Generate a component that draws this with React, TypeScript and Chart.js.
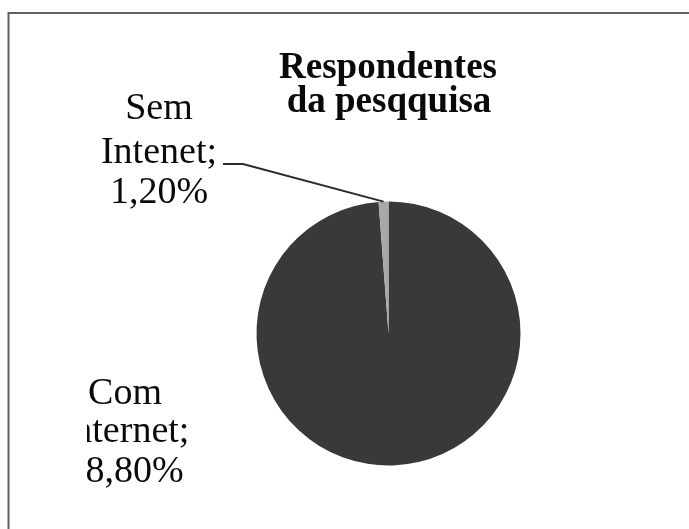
import React, { useEffect, useRef } from "react";
import { Chart, ArcElement, PieController } from "chart.js";

Chart.register(ArcElement, PieController);

const categories = ["Com Internet;", "Sem Intenet;"];
const values = [98.8, 1.2];
const sliceColors = ["#393939", "#a9a9a9"];
const titleLines = ["Respondentes", "da pesqquisa"];

const fmtPct = (v: number) => v.toFixed(2).replace(".", ",") + "%";

const overlay = {
  id: "overlay",
  afterDraw(chart: any) {
    const ctx: CanvasRenderingContext2D = chart.ctx;
    ctx.save();
    // frame
    ctx.strokeStyle = "#606060";
    ctx.lineWidth = 2;
    ctx.beginPath();
    ctx.moveTo(8.5, 529);
    ctx.lineTo(8.5, 13);
    ctx.lineTo(689, 13);
    ctx.stroke();

    // title
    ctx.fillStyle = "#0a0a0a";
    ctx.textAlign = "center";
    ctx.textBaseline = "alphabetic";
    ctx.font = "bold 37px 'Liberation Serif'";
    ctx.fillText(titleLines[0], 388, 78);
    ctx.fillText(titleLines[1], 389, 112);

    // labels
    ctx.font = "38px 'Liberation Serif'";
    const meta = chart.getDatasetMeta(0);
    const lines = categories.map((c, i) => {
      const parts = c.split(" ");
      return [parts[0], parts.slice(1).join(" "), fmtPct(values[i])];
    });
    // Sem Intenet label
    const semY = [119, 163, 203];
    lines[1].forEach((t, k) => ctx.fillText(t, 159, semY[k]));
    // Com Internet label (clipped on left as in reference)
    ctx.save();
    ctx.beginPath();
    ctx.rect(87, 0, 689, 529);
    ctx.clip();
    const comY = [404, 442, 482];
    lines[0].forEach((t, k) => ctx.fillText(t, 125, comY[k]));
    ctx.restore();

    // leader line for small slice
    const arc = meta.data[1];
    const mid = (arc.startAngle + arc.endAngle) / 2;
    const px = arc.x + Math.cos(mid) * arc.outerRadius;
    const py = arc.y + Math.sin(mid) * arc.outerRadius;
    ctx.strokeStyle = "#2a2a2a";
    ctx.lineWidth = 2;
    ctx.beginPath();
    ctx.moveTo(223, 164);
    ctx.lineTo(243, 164);
    ctx.lineTo(px, py);
    ctx.stroke();
    ctx.restore();
  },
};

export default function App() {
  const ref = useRef<HTMLCanvasElement | null>(null);
  useEffect(() => {
    if (!ref.current) return;
    const chart = new Chart(ref.current, {
      type: "pie",
      data: {
        labels: categories,
        datasets: [
          {
            data: values,
            backgroundColor: sliceColors,
            borderColor: "#2e2e2e",
            borderWidth: 0,
          },
        ],
      },
      options: {
        responsive: false,
        animation: false,
        events: [],
        layout: { padding: { left: 256.5, right: 168.5, top: 201.5, bottom: 63.5 } },
        plugins: { legend: { display: false }, tooltip: { enabled: false } } as any,
      },
      plugins: [overlay],
    });
    return () => chart.destroy();
  }, []);
  return (
    <div style={{ position: "absolute", left: 0, top: 0, width: 689, height: 529, background: "#fff" }}>
      <canvas ref={ref} width={689} height={529} style={{ display: "block" }} />
    </div>
  );
}
